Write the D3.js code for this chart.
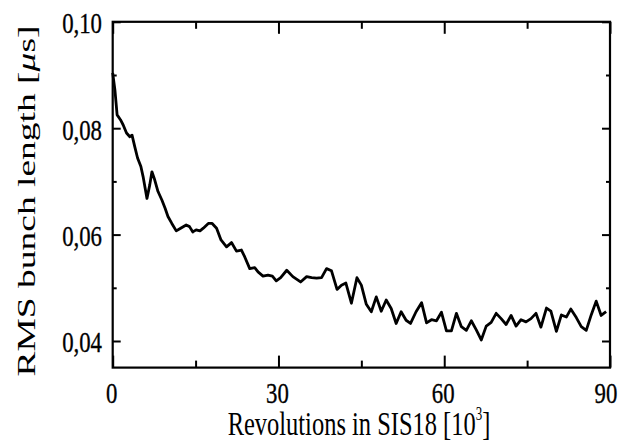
<!DOCTYPE html>
<html>
<head>
<meta charset="utf-8">
<script src="https://cdn.jsdelivr.net/npm/d3@7"></script>
<style>
  html, body { margin: 0; padding: 0; background: #fff; }
  svg { display: block; }
  text { font-family: "Liberation Serif", "Times New Roman", serif; fill: #000; }
  .tick-label { stroke: #000; stroke-width: 0.35px; }
</style>
</head>
<body>
<svg id="chart" width="624" height="446"></svg>
<script>
// ---- data (revolutions in 10^3, RMS bunch length in µs) ----
const revolutions = [0, 0.4, 0.8, 1.4, 1.9, 2.5, 3.1, 3.5, 4.0, 4.5, 5.1, 5.5, 6.2, 6.7, 7.1, 7.6, 8.2, 8.9, 9.5, 10.0,
  10.7, 11.5, 12.3, 13.3, 13.9, 14.5, 15.1, 15.8, 16.4, 17.3, 18.0, 18.8, 19.6, 20.6, 21.5, 22.4, 23.3, 23.9, 24.8, 25.7,
  26.3, 27.2, 28.1, 28.9, 29.6, 30.4, 31.5, 32.6, 34.0, 35.1, 36.0, 36.9, 37.8, 38.7, 39.6, 40.6, 41.4, 42.2, 43.2, 44.2,
  45.0, 45.9, 46.8, 47.7, 48.6, 49.5, 50.4, 51.3, 52.2, 53.1, 53.9, 54.9, 55.9, 56.8, 57.7, 58.6, 59.5, 60.4, 61.3, 62.2,
  63.1, 64.0, 64.9, 65.8, 66.7, 67.6, 68.5, 69.4, 70.3, 71.2, 72.1, 73.0, 73.9, 74.8, 75.7, 76.6, 77.5, 78.5, 79.3, 80.3,
  81.2, 82.1, 82.9, 83.9, 84.8, 85.7, 86.6, 87.5, 88.4, 89.3];
const bunchLength = [0.0904, 0.0872, 0.0825, 0.0816, 0.0806, 0.0791, 0.0784, 0.0787, 0.0765, 0.0744, 0.0728, 0.0709, 0.0668, 0.0693, 0.0718, 0.0703, 0.0681, 0.0665, 0.0649, 0.0634,
  0.0621, 0.0607, 0.0612, 0.0618, 0.0615, 0.0605, 0.0609, 0.0607, 0.0612, 0.0621, 0.0621, 0.0612, 0.0590, 0.0577, 0.0585, 0.0569, 0.0571, 0.0558, 0.0536, 0.0538,
  0.0530, 0.0522, 0.0524, 0.0522, 0.0513, 0.0519, 0.0533, 0.0521, 0.0511, 0.0521, 0.0519, 0.0518, 0.0519, 0.0536, 0.0532, 0.0497, 0.0505, 0.0509, 0.0471, 0.0519,
  0.0505, 0.0469, 0.0455, 0.0483, 0.0456, 0.0477, 0.0461, 0.0433, 0.0455, 0.0439, 0.0433, 0.0455, 0.0472, 0.0434, 0.0440, 0.0438, 0.0454, 0.0419, 0.0419, 0.0452,
  0.0427, 0.0420, 0.0438, 0.0421, 0.0402, 0.0428, 0.0435, 0.0452, 0.0442, 0.0431, 0.0448, 0.0428, 0.0440, 0.0436, 0.0442, 0.0452, 0.0426, 0.0462, 0.0456, 0.0418,
  0.0449, 0.0445, 0.0460, 0.0444, 0.0427, 0.0420, 0.0449, 0.0475, 0.0448, 0.0455];

const xMajorTicks = [0, 30, 60, 90];
const xMinorTicks = [15, 45, 75];
const xTickLabels = ["0", "30", "60", "90"];
const yMajorTicks = [0.04, 0.06, 0.08, 0.10];
const yMinorTicks = [0.05, 0.07, 0.09];
const yTickLabels = ["0,04", "0,06", "0,08", "0,10"];
const xTitle = "Revolutions in SIS18 [10";
const yTitle = "RMS bunch length [";

// ---- layout ----
const L = 112.7, R = 610, T = 21.8, B = 367.6;
const svg = d3.select("#chart");
const x = d3.scaleLinear().domain([0, 90]).range([L, R]);
const y = d3.scaleLinear().domain([0.035, 0.10]).range([B, T]);

// ticks (inward) using d3 axes
function addAxis(axisGen, tx, ty) {
  const g = svg.append("g").attr("transform", `translate(${tx},${ty})`).call(axisGen);
  g.select(".domain").remove();
  g.selectAll("line").attr("stroke", "#000").attr("stroke-width", 2);
  g.selectAll("text").remove();
  return g;
}
// bottom
addAxis(d3.axisBottom(x).tickValues(xMajorTicks).tickSize(-12), 0, B);
addAxis(d3.axisBottom(x).tickValues(xMinorTicks).tickSize(-7), 0, B);
// top
addAxis(d3.axisTop(x).tickValues(xMajorTicks).tickSize(-12), 0, T);
addAxis(d3.axisTop(x).tickValues(xMinorTicks).tickSize(-7), 0, T);
// left
addAxis(d3.axisLeft(y).tickValues(yMajorTicks).tickSize(-8), L, 0);
addAxis(d3.axisLeft(y).tickValues(yMinorTicks).tickSize(-4), L, 0);
// right
addAxis(d3.axisRight(y).tickValues(yMajorTicks).tickSize(-8), R, 0);
addAxis(d3.axisRight(y).tickValues(yMinorTicks).tickSize(-4), R, 0);

// frame
svg.append("rect").attr("x", L).attr("y", T).attr("width", R - L).attr("height", B - T)
  .attr("fill", "none").attr("stroke", "#000").attr("stroke-width", 2.2);

// line
const line = d3.line().x((d, i) => x(revolutions[i])).y(d => y(d));
svg.append("path").datum(bunchLength).attr("d", line)
  .attr("fill", "none").attr("stroke", "#000").attr("stroke-width", 2.8)
  .attr("stroke-linejoin", "round");

// tick labels
const sx = 0.76;
yMajorTicks.forEach((v, i) => {
  svg.append("text").attr("class", "tick-label")
    .attr("transform", `translate(102,${y(v)}) scale(${sx},1)`)
    .attr("text-anchor", "end").attr("dy", "0.38em")
    .attr("font-size", 30).text(yTickLabels[i]);
});
xMajorTicks.forEach((v, i) => {
  svg.append("text").attr("class", "tick-label")
    .attr("transform", `translate(${x(v) - (i === 3 ? 4 : 1)},403) scale(${sx},1)`)
    .attr("text-anchor", "middle")
    .attr("font-size", 30).text(xTickLabels[i]);
});

// x title
const xt = svg.append("text")
  .attr("transform", `translate(359,435) scale(0.72,1)`)
  .attr("text-anchor", "middle").attr("font-size", 34);
xt.append("tspan").text(xTitle);
xt.append("tspan").attr("font-size", 18).attr("dy", -15).text("3");
xt.append("tspan").attr("dy", 15).text("]");

// y title
const yt = svg.append("text")
  .attr("transform", `translate(35,201) scale(1,1.5) rotate(-90)`)
  .attr("text-anchor", "middle").attr("font-size", 25);
yt.append("tspan").text(yTitle);
yt.append("tspan").attr("font-style", "italic").text("μ");
yt.append("tspan").text("s]");
</script>
</body>
</html>
